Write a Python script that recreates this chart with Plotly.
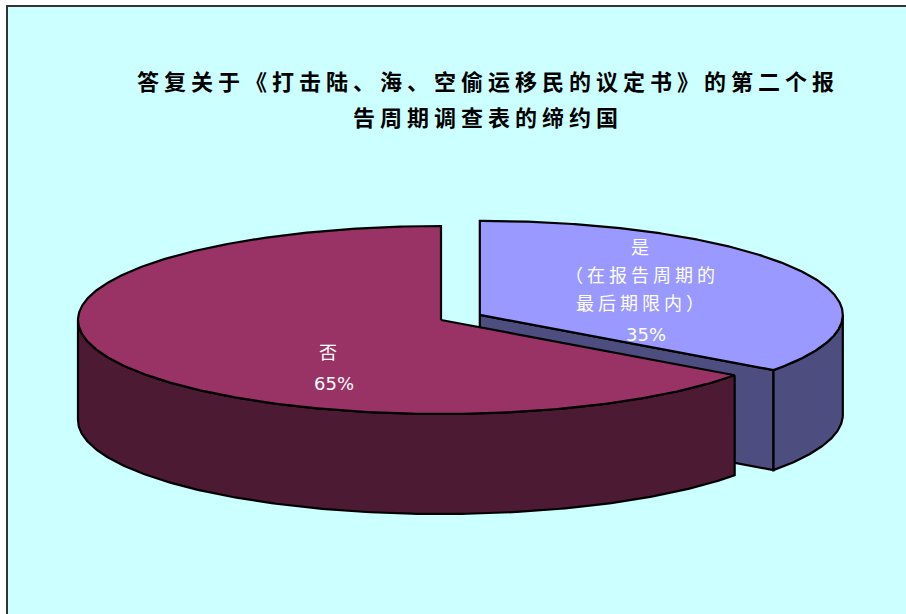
import numpy as np
import plotly.graph_objects as go

# ---------------- data ----------------
title_lines = ["答复关于《打击陆、海、空偷运移民的议定书》的第二个报", "告周期调查表的缔约国"]
categories = ["是\n（在报告周期的\n最后期限内）", "否"]
values = [35, 65]

# ---------------- style / layout ----------------
top_colors = ["#9999FF", "#993366"]
side_colors = ["#4D4D80", "#4D1A33"]
explode = [0.12, 0.0]
W, H = 906, 614
CX, CY = 441, 320        # pie centre (pixels)
RX, RY = 363, 94         # ellipse radii
DEPTH = 100              # 3-D thickness
label_pos = [(642, 246), (330, 351)]
LINE_STEP = 28
PCT_GAP = 32

fig = go.Figure()


def pt(cx, cy, th, dz=0.0):
    r = np.radians(th)
    return cx + RX * np.sin(r), cy - RY * np.cos(r) + dz


def add_poly(xs, ys, color):
    xs = list(xs) + [xs[0]]
    ys = list(ys) + [ys[0]]
    fig.add_trace(go.Scatter(x=xs, y=ys, mode="lines", fill="toself",
                             fillcolor=color, line=dict(color="black", width=2.2),
                             hoverinfo="skip", showlegend=False))


total = float(sum(values))
cum = 0.0
slices = []
for i, v in enumerate(values):
    th1 = cum
    th2 = cum + 360.0 * v / total
    cum = th2
    mid = (th1 + th2) / 2
    r = np.radians(mid)
    cx = CX + explode[i] * RX * np.sin(r)
    cy = CY - explode[i] * RY * np.cos(r)
    slices.append((i, th1, th2, cx, cy))

for i, th1, th2, cx, cy in slices:
    # radial face at start angle
    if np.sin(np.radians(th1)) < -1e-9:
        x1, y1 = pt(cx, cy, th1)
        add_poly([cx, x1, x1, cx], [cy, y1, y1 + DEPTH, cy + DEPTH], side_colors[i])
    # radial face at end angle
    if np.sin(np.radians(th2)) > 1e-9:
        x2, y2 = pt(cx, cy, th2)
        add_poly([cx, x2, x2, cx], [cy, y2, y2 + DEPTH, cy + DEPTH], side_colors[i])
    # outer wall (front half: 90..270)
    a0, a1 = max(th1, 90.0), min(th2, 270.0)
    if a1 > a0:
        ts = np.linspace(a0, a1, 200)
        tx, ty = pt(cx, cy, ts)
        bx, by = pt(cx, cy, ts[::-1], DEPTH)
        add_poly(np.concatenate([tx, bx]), np.concatenate([ty, by]), side_colors[i])
    # top face
    ts = np.linspace(th1, th2, 400)
    ax, ay = pt(cx, cy, ts)
    add_poly(np.concatenate([[cx], ax]), np.concatenate([[cy], ay]), top_colors[i])

annotations = []
# title
for k, line in enumerate(title_lines):
    annotations.append(dict(
        x=488, y=80 + 36 * k, xref="x", yref="y", showarrow=False,
        text=f"<b><span style='letter-spacing:5px'>{line}</span></b>",
        font=dict(family="Noto Sans CJK SC", size=22, color="black"),
        xanchor="center", yanchor="middle"))

# slice labels
for i, v in enumerate(values):
    lx, ly = label_pos[i]
    lines = categories[i].split("\n")
    for k, line in enumerate(lines):
        annotations.append(dict(
            x=lx, y=ly + LINE_STEP * k, xref="x", yref="y", showarrow=False,
            text=f"<span style='letter-spacing:4px'>{line}</span>",
            font=dict(family="Noto Sans CJK SC", size=18, color="white"),
            xanchor="center", yanchor="middle"))
    pct = f"{v / total * 100:.0f}%"
    annotations.append(dict(
        x=lx + 4, y=ly + LINE_STEP * (len(lines) - 1) + PCT_GAP, xref="x", yref="y",
        showarrow=False, text=pct,
        font=dict(family="DejaVu Sans", size=18, color="white"),
        xanchor="center", yanchor="middle"))

fig.update_layout(
    width=W, height=H, margin=dict(l=0, r=0, t=0, b=0),
    paper_bgcolor="white", plot_bgcolor="rgba(0,0,0,0)",
    xaxis=dict(range=[0, W], visible=False, fixedrange=True),
    yaxis=dict(range=[H, 0], visible=False, fixedrange=True),
    shapes=[dict(type="rect", xref="x", yref="y", x0=7, y0=6, x1=W + 20, y1=H + 20,
                 fillcolor="#CCFFFF", line=dict(color="#333333", width=2), layer="below")],
    annotations=annotations,
    showlegend=False,
)

fig.write_html("out.html")
